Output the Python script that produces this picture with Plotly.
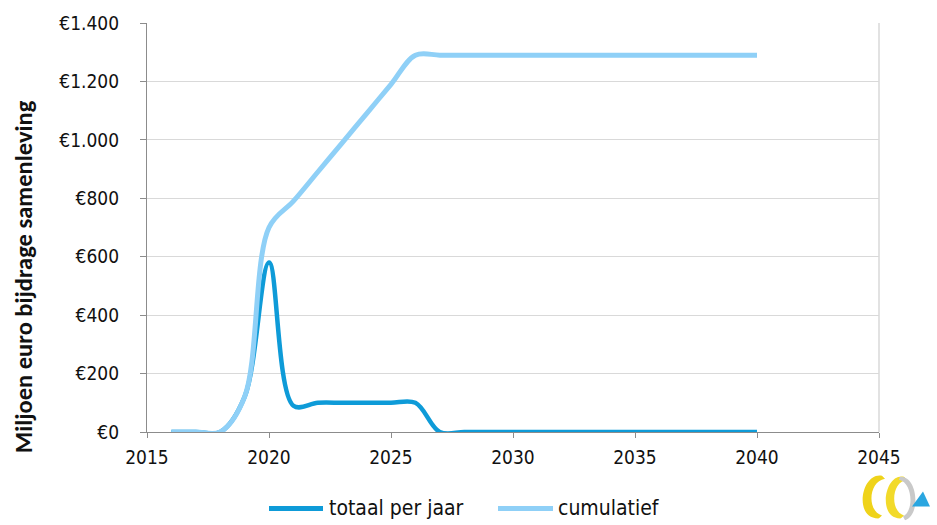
import plotly.graph_objects as go

# Jaarlijkse en cumulatieve bijdrage (miljoen euro)
jaren = list(range(2016, 2041))
totaal_per_jaar = [0, 0, 0, 120, 580, 90, 100, 100, 100, 100, 100] + [0] * 14
cumulatief = []
_som = 0
for v in totaal_per_jaar:
    _som += v
    cumulatief.append(_som)

y_ticks = [0, 200, 400, 600, 800, 1000, 1200, 1400]
y_labels = ["€" + "{:,}".format(v).replace(",", ".") for v in y_ticks]
x_ticks = [2015, 2020, 2025, 2030, 2035, 2040, 2045]

DONKER = "#0e9bd8"
LICHT = "#8fd0f7"
TEKST = "#111111"
TICK_FONT = "DejaVu Sans Condensed, DejaVu Sans, sans-serif"
TITLE_FONT = "Carlito, Lato, sans-serif"

W, H = 937, 525
L, R, T, B = 147, 879, 20, 432  # plot area in pixels


def pp(x, y):
    """pixel position -> paper coordinates"""
    return (x - L) / (R - L), (B - y) / (B - T)


def path(cmds):
    out = []
    for c in cmds:
        op, pts = c[0], c[1:]
        coords = " ".join("%.5f,%.5f" % pp(*p) for p in pts)
        out.append(op + " " + coords if pts else op)
    return " ".join(out)


fig = go.Figure()
fig.add_trace(go.Scatter(
    x=jaren, y=totaal_per_jaar, name="totaal per jaar", mode="lines",
    line=dict(color=DONKER, width=4.5, shape="spline", smoothing=1),
    cliponaxis=False, showlegend=False,
))
fig.add_trace(go.Scatter(
    x=jaren, y=cumulatief, name="cumulatief", mode="lines",
    line=dict(color=LICHT, width=5, shape="spline", smoothing=1),
    cliponaxis=False, showlegend=False,
))

shapes = []
# right border of plot area
shapes.append(dict(type="line", xref="paper", yref="paper", x0=1, x1=1, y0=0, y1=1,
                   line=dict(color="#d9d9d9", width=1.5), layer="below"))

# legend samples
for (x0, x1, col) in [(269, 323, DONKER), (498, 553, LICHT)]:
    a, yy = pp(x0, 509)
    b, _ = pp(x1, 509)
    shapes.append(dict(type="line", xref="paper", yref="paper", x0=a, x1=b, y0=yy, y1=yy,
                       line=dict(color=col, width=5)))

# logo: two yellow rings, a grey ring and a blue arrow head
shapes.append(dict(type="path", xref="paper", yref="paper", line=dict(width=0),
                   fillcolor="#efd31a",
                   path=path([("M", (882, 476)), ("C", (861, 472), (853, 520), (879, 519)),
                              ("L", (882, 516)), ("C", (867, 512), (868, 482), (885, 479)), ("Z",)])))
shapes.append(dict(type="path", xref="paper", yref="paper", line=dict(width=0),
                   fillcolor="#f2da2a",
                   path=path([("M", (904, 477)), ("C", (884, 473), (877, 520), (901, 519)),
                              ("L", (904, 516)), ("C", (890, 512), (891, 482), (907, 480)), ("Z",)])))
shapes.append(dict(type="path", xref="paper", yref="paper", line=dict(width=0),
                   fillcolor="#c9c9c9",
                   path=path([("M", (900, 477)), ("C", (918, 476), (921, 516), (905, 521)),
                              ("L", (903, 517)), ("C", (914, 512), (913, 483), (899, 480)), ("Z",)])))
shapes.append(dict(type="path", xref="paper", yref="paper", line=dict(width=0),
                   fillcolor="#2aa6e0",
                   path=path([("M", (912, 507)), ("L", (930, 507)), ("L", (923, 492)), ("Z",)])))

annotations = []
tx, ty = pp(24, 276)
annotations.append(dict(xref="paper", yref="paper", x=tx, y=ty, text="<b>Miljoen euro bijdrage samenleving</b>",
                        textangle=-90, showarrow=False, xanchor="center", yanchor="middle",
                        font=dict(family=TITLE_FONT, size=24.5, color=TEKST)))
for (x0, label) in [(327, "totaal per jaar"), (556, "cumulatief")]:
    a, yy = pp(x0, 509)
    annotations.append(dict(xref="paper", yref="paper", x=a, y=yy, text=label, showarrow=False,
                            xanchor="left", yanchor="middle",
                            font=dict(family=TICK_FONT, size=21, color=TEKST)))

fig.update_layout(
    width=W, height=H,
    margin=dict(l=L, r=W - R, t=T, b=H - B),
    paper_bgcolor="white", plot_bgcolor="white",
    showlegend=False,
    shapes=shapes,
    annotations=annotations,
    xaxis=dict(
        range=[2015, 2045], tickvals=x_ticks, showgrid=False, zeroline=False,
        showline=True, linecolor="#8c8c8c", linewidth=1.2,
        ticks="outside", ticklen=5, tickcolor="#8c8c8c", tickwidth=1.2,
        tickfont=dict(family=TICK_FONT, size=19, color=TEKST),
        ticklabelstandoff=3,
    ),
    yaxis=dict(
        range=[0, 1400], tickvals=y_ticks, ticktext=y_labels,
        showgrid=True, gridcolor="#d9d9d9", gridwidth=1.2, zeroline=False,
        showline=True, linecolor="#8c8c8c", linewidth=1.2,
        ticks="outside", ticklen=6, tickcolor="#8c8c8c", tickwidth=1.2,
        tickfont=dict(family=TICK_FONT, size=19, color=TEKST),
        ticklabelstandoff=17,
    ),
)

fig.write_html("out.html")
